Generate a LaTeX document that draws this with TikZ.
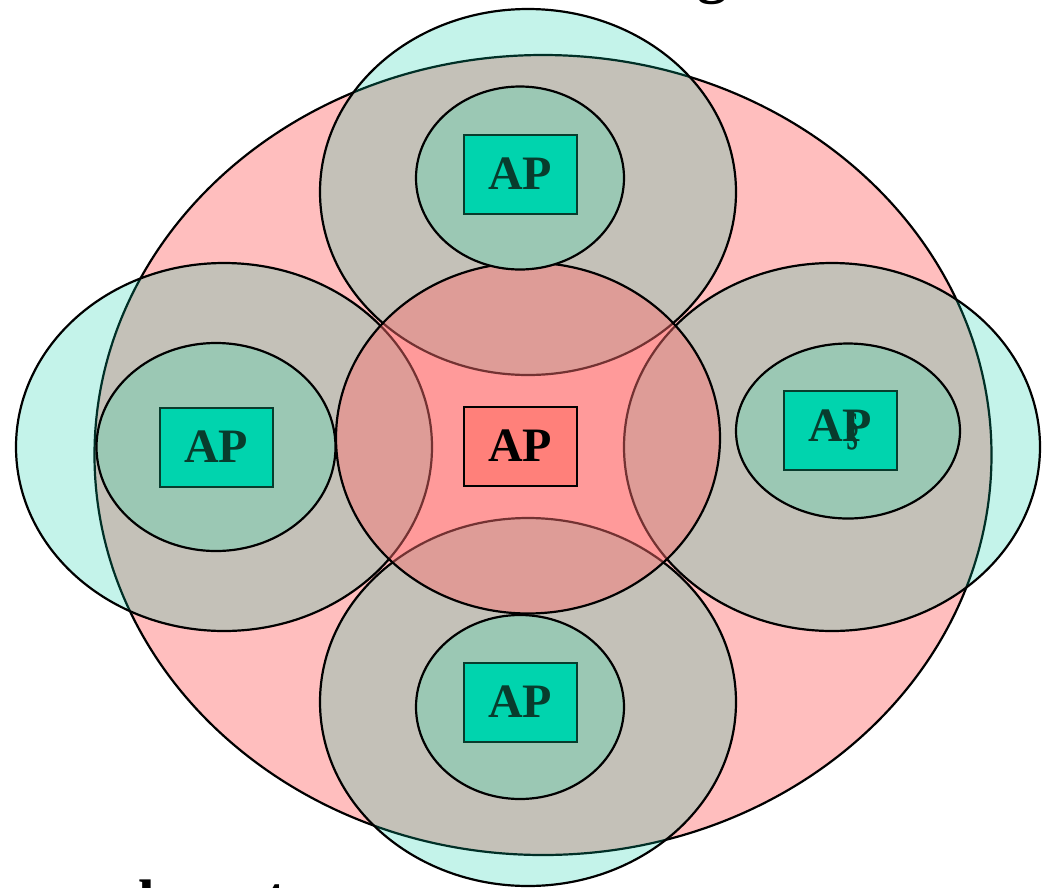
\documentclass[tikz,border=0pt]{standalone}
\usepackage{fontspec}
\setmainfont{Liberation Serif}
\usetikzlibrary{shapes.geometric}
\definecolor{pinkbig}{RGB}{255,190,190}
\definecolor{cyanc}{RGB}{0,205,168}
\definecolor{innerg}{RGB}{155,200,180}
\definecolor{centerc}{RGB}{255,112,112}
\definecolor{apgreen}{RGB}{0,212,174}
\definecolor{aptext}{RGB}{8,60,45}
\definecolor{apred}{RGB}{255,128,122}
\tikzset{
  ell/.style={ellipse, draw=black, line width=2.2pt, inner sep=0pt},
  bigcell/.style={ell, fill=pinkbig},
  cell/.style={ell, fill=cyanc, fill opacity=0.23},
  core/.style={ell, fill=innerg},
  midcell/.style={ell, fill=centerc, fill opacity=0.45},
  apbox/.style={rectangle, draw=aptext, line width=2pt, fill=apgreen, text=aptext,
     minimum width=113pt, minimum height=79pt, inner sep=0pt,
     font=\fontsize{48}{50}\selectfont\bfseries},
  apcenter/.style={apbox, draw=black, fill=apred, text=black},
  cut/.style={font=\fontsize{60}{62}\selectfont\bfseries, inner sep=0pt, anchor=base west}
}
\begin{document}
\begin{tikzpicture}[x=1pt,y=-1pt]
\clip (0,0) rectangle (1042,887);
\fill[white] (0,0) rectangle (1042,887);
% cut-off title and footer text
\node[cut] (ttl) at (697,-9) {g};
\node[cut] (ftl) at (138,921) {l};
\node[cut] (ftt) at (266,918) {t};
% big coverage
\node[bigcell, minimum width=897pt, minimum height=800pt] (big) at (543,455) {};
% four cells
\node[cell, minimum width=416pt, minimum height=366pt] (ctop) at (528,192) {};
\node[cell, minimum width=416pt, minimum height=368pt] (cbot) at (528,702) {};
\node[cell, minimum width=416pt, minimum height=368pt] (cleft) at (224,447) {};
\node[cell, minimum width=416pt, minimum height=368pt] (cright) at (832,447) {};
% center cell
\node[midcell, minimum width=384pt, minimum height=351pt] (cmid) at (528,438) {};
% inner cores
\node[core, minimum width=208pt, minimum height=183pt] (itop) at (520,178) {};
\node[core, minimum width=239pt, minimum height=208pt] (ileft) at (216,447) {};
\node[core, minimum width=224pt, minimum height=175pt] (iright) at (848,431) {};
\node[core, minimum width=208pt, minimum height=184pt] (ibot) at (520,707) {};
% access points
\node[apbox] (aptop) at (520,174) {AP};
\node[apbox] (apleft) at (216,447) {AP};
\node[apbox] (apright) at (840,430) {A\rlap{\kern3pt\raisebox{-3pt}{\scalebox{0.6}[0.95]{\S}}}P};
\node[apbox] (apbot) at (520,702) {AP};
\node[apcenter] (apmid) at (520,446) {AP};
\end{tikzpicture}
\end{document}
